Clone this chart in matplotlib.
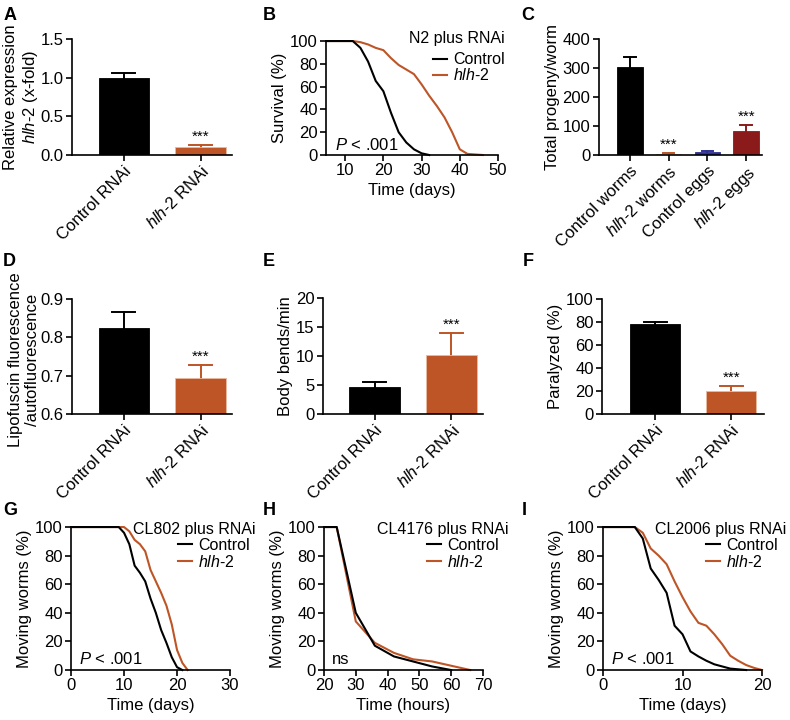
import numpy as np
import matplotlib
matplotlib.use("Agg")
import matplotlib.pyplot as plt

plt.rcParams['font.family'] = ['Liberation Sans', 'DejaVu Sans']
plt.rcParams['font.size'] = 12
plt.rcParams['mathtext.fontset'] = 'custom'
plt.rcParams['mathtext.rm'] = 'Liberation Sans'
plt.rcParams['mathtext.it'] = 'Liberation Sans:italic'
plt.rcParams['axes.linewidth'] = 1.2
plt.rcParams['xtick.major.width'] = 1.2
plt.rcParams['ytick.major.width'] = 1.2
plt.rcParams['xtick.major.size'] = 4
plt.rcParams['ytick.major.size'] = 4

BLACK = '#000000'
ORANGE = '#BD5527'
BLUE = '#2E3192'
RED = '#8B1A1A'
HLH = r'$\it{hlh}$-$\it{2}$'

# ---- data: bar panels ----
rnai_labels = ['Control RNAi', HLH + ' RNAi']

expr_mean = [1.00, 0.11]
expr_err = [0.06, 0.02]

progeny_labels = ['Control worms', HLH + ' worms', 'Control eggs', HLH + ' eggs']
progeny_mean = [305, 5, 11, 84]
progeny_err = [33, 3, 3, 18]

lipo_mean = [0.825, 0.695]
lipo_err = [0.041, 0.033]

bends_mean = [4.6, 10.2]
bends_err = [1.0, 3.7]

paralyzed_mean = [78, 20]
paralyzed_err = [2.3, 4.0]

# ---- data: survival panels ----
b_ctrl_t = [5, 12, 14, 16, 18, 20, 22, 24, 26, 28, 30, 32]
b_ctrl_s = [100, 100, 94, 82, 65, 56, 37, 20, 11, 5, 1.5, 0]
b_hlh_t = [5, 12, 14, 16, 18, 20, 22, 24, 26, 28, 30, 32, 34, 36, 38, 40, 42, 44, 46]
b_hlh_s = [100, 100, 99, 97, 94, 92, 85, 79, 75, 71, 62, 52, 43, 33, 20, 5, 1, 0.5, 0]

g_ctrl_t = [0, 9, 10, 11, 12, 13, 14, 15, 16, 17, 18, 19, 20, 21]
g_ctrl_s = [100, 100, 96, 88, 73, 68, 62, 50, 40, 28, 19, 9, 2, 0]
g_hlh_t = [0, 10, 11, 12, 13, 14, 15, 16, 17, 18, 19, 20, 21, 22]
g_hlh_s = [100, 100, 97, 91, 88, 83, 70, 62, 54, 45, 32, 14, 5, 0]

h_ctrl_t = [20, 24, 30, 36, 42, 48, 54, 60]
h_ctrl_s = [100, 100, 40, 17, 9.5, 6, 2.5, 0]
h_hlh_t = [20, 24, 30, 36, 42, 48, 54, 60, 66]
h_hlh_s = [100, 100, 34, 19, 12, 7.5, 6, 3, 0]

i_ctrl_t = [0, 4, 5, 6, 7, 8, 9, 10, 11, 12, 13, 14, 15, 16, 17, 18]
i_ctrl_s = [100, 100, 92, 71, 63, 54, 31, 25, 13, 9.5, 6.5, 4, 2.5, 1, 0.5, 0]
i_hlh_t = [0, 4, 5, 6, 7, 8, 9, 10, 11, 12, 13, 14, 15, 16, 17, 18, 19, 20]
i_hlh_s = [100, 100, 96, 85, 80, 74, 62, 51, 41, 33, 31, 25, 18, 10, 6.5, 3.5, 1.5, 0]

fig = plt.figure(figsize=(7.9, 7.2), dpi=100)


def style(ax):
    ax.spines['top'].set_visible(False)
    ax.spines['right'].set_visible(False)
    ax.tick_params(direction='out', labelsize=12, pad=2)


def bars(ax, labels, means, errs, colors, ylim, yticks, ylabel, stars, xlim, xfs=12):
    x = np.arange(len(means))
    bottom = ylim[0]
    for i in range(len(means)):
        ax.bar(x[i], means[i] - bottom, bottom=bottom, width=0.66, color=colors[i],
               edgecolor='#e8b9a0' if colors[i] == ORANGE else colors[i], linewidth=0.6, zorder=2)
        top = means[i] + errs[i]
        ax.plot([x[i], x[i]], [means[i], top], color=colors[i], lw=1.4, zorder=1)
        ax.plot([x[i] - 0.15, x[i] + 0.15], [top, top], color=colors[i], lw=1.4, zorder=1)
        if stars[i]:
            ax.text(x[i], top + (ylim[1] - ylim[0]) * 0.01, '***',
                    ha='center', va='bottom', fontsize=11)
    ax.set_xlim(*xlim)
    ax.set_ylim(*ylim)
    ax.set_yticks(yticks)
    ax.set_xticks(x)
    ax.set_xticklabels(labels, rotation=45, ha='right', rotation_mode='anchor', fontsize=xfs)
    ax.set_ylabel(ylabel, fontsize=12, labelpad=2)
    style(ax)


def survival(ax, t1, s1, t2, s2, xlim, xticks, xlabel, title, note, title_xy, leg_xy, spacing):
    ax.plot(t1, s1, color=BLACK, lw=1.5, label='Control', clip_on=False, zorder=3)
    ax.plot(t2, s2, color=ORANGE, lw=1.5, label=HLH, clip_on=False, zorder=2)
    ax.set_xlim(*xlim)
    ax.set_ylim(0, 100)
    ax.set_xticks(xticks)
    ax.set_yticks([0, 20, 40, 60, 80, 100])
    ax.set_xlabel(xlabel, fontsize=12, labelpad=3)
    ax.set_ylabel('Moving worms (%)', fontsize=12, labelpad=2)
    ax.text(title_xy[0], title_xy[1], title, transform=ax.transAxes, fontsize=11.5,
            ha='right', va='center')
    ax.legend(loc='upper right', bbox_to_anchor=leg_xy, borderaxespad=0,
              frameon=False, handlelength=0.9, handletextpad=0.4,
              labelspacing=spacing, borderpad=0, fontsize=11.5)
    ax.text(0.05, 0.02, note, transform=ax.transAxes, fontsize=12, ha='left', va='bottom')
    style(ax)


# A
axA = fig.add_axes([0.0911, 0.7847, 0.2025, 0.1611])
bars(axA, rnai_labels, expr_mean, expr_err, [BLACK, ORANGE], (0, 1.5),
     [0, 0.5, 1.0, 1.5], 'Relative expression\n' + HLH + ' (x-fold)',
     [False, True], (-0.675, 1.405))
axA.set_yticklabels(['0.0', '0.5', '1.0', '1.5'])
axA.yaxis.set_label_coords(-0.2, 0.5)

# B
axB = fig.add_axes([0.4127, 0.7847, 0.2177, 0.1583])
survival(axB, b_ctrl_t, b_ctrl_s, b_hlh_t, b_hlh_s, (5, 50), [10, 20, 30, 40, 50],
         'Time (days)', 'N2 plus RNAi', r'$\it{P}$ < .001', (1.04, 1.018), (1.04, 0.9), 0.0)
axB.set_ylabel('Survival (%)', fontsize=12, labelpad=2)

# C
axC = fig.add_axes([0.758, 0.7847, 0.2063, 0.1611])
bars(axC, progeny_labels, progeny_mean, progeny_err, [BLACK, ORANGE, BLUE, RED], (0, 400),
     [0, 100, 200, 300, 400], 'Total progeny/worm', [False, True, False, True], (-0.8, 3.4),
     xfs=11.5)

# D
axD = fig.add_axes([0.0911, 0.425, 0.2025, 0.1597])
bars(axD, rnai_labels, lipo_mean, lipo_err, [BLACK, ORANGE], (0.6, 0.9),
     [0.6, 0.7, 0.8, 0.9], 'Lipofuscin fluorescence\n/autofluorescence',
     [False, True], (-0.675, 1.405))
axD.yaxis.set_label_coords(-0.2, 0.47)

# E
axE = fig.add_axes([0.4089, 0.425, 0.2025, 0.1611])
bars(axE, rnai_labels, bends_mean, bends_err, [BLACK, ORANGE], (0, 20),
     [0, 5, 10, 15, 20], 'Body bends/min', [False, True], (-0.67, 1.41))

# F
axF = fig.add_axes([0.762, 0.425, 0.2051, 0.1597])
bars(axF, rnai_labels, paralyzed_mean, paralyzed_err, [BLACK, ORANGE], (0, 100),
     [0, 20, 40, 60, 80, 100], 'Paralyzed (%)', [False, True], (-0.7, 1.43))

# G
axG = fig.add_axes([0.0899, 0.0694, 0.2013, 0.1986])
survival(axG, g_ctrl_t, g_ctrl_s, g_hlh_t, g_hlh_s, (0, 30), [0, 10, 20, 30],
         'Time (days)', 'CL802 plus RNAi', r'$\it{P}$ < .001', (1.16, 0.986), (1.126, 0.925), 0.05)

# H
axH = fig.add_axes([0.4101, 0.0694, 0.2013, 0.1986])
survival(axH, h_ctrl_t, h_ctrl_s, h_hlh_t, h_hlh_s, (20, 70), [20, 30, 40, 50, 60, 70],
         'Time (hours)', 'CL4176 plus RNAi', 'ns', (1.16, 0.986), (1.10, 0.925), 0.05)

# I
axI = fig.add_axes([0.7633, 0.0694, 0.2013, 0.1986])
survival(axI, i_ctrl_t, i_ctrl_s, i_hlh_t, i_hlh_s, (0, 20), [0, 10, 20],
         'Time (days)', 'CL2006 plus RNAi', r'$\it{P}$ < .001', (1.15, 0.986), (1.10, 0.925), 0.05)

# panel letters
for letter, x, y in [('A', 0.004, 0.99), ('B', 0.333, 0.99), ('C', 0.660, 0.99),
                     ('D', 0.004, 0.648), ('E', 0.333, 0.648), ('F', 0.662, 0.648),
                     ('G', 0.004, 0.303), ('H', 0.333, 0.303), ('I', 0.660, 0.303)]:
    fig.text(x, y, letter, fontsize=13, fontweight='bold', va='top', ha='left')

fig.savefig('out.png', dpi=100)
